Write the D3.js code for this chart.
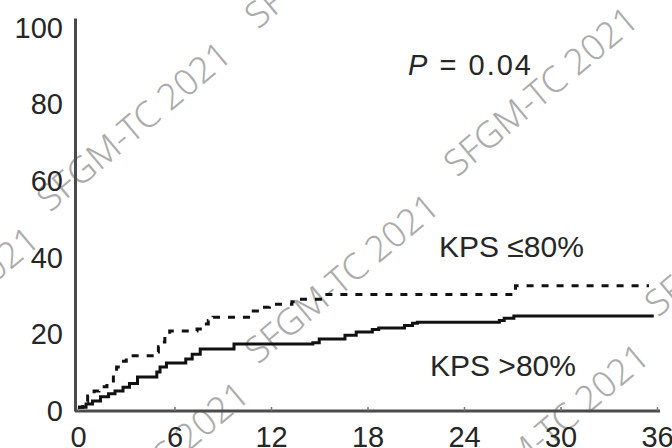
<!DOCTYPE html>
<html>
<head>
<meta charset="utf-8">
<script src="https://cdn.jsdelivr.net/npm/d3@7"></script>
<style>
  body { margin: 0; background: #fff; }
  svg { display: block; font-family: "Liberation Sans", Arial, sans-serif; }
</style>
</head>
<body>
<svg id="chart"></svg>
<script>
// cumulative incidence (%) by month
const kpsHighTimes = [0, 0.5, 0.9, 1.4, 1.9, 2.3, 2.8, 3.2, 3.7, 4.9, 5.1, 5.5, 6.7, 7.1, 7.6, 9.7, 14.6, 15.0, 16.6, 17.3, 18.3, 18.7, 20.3, 20.8, 21.1, 26.2, 26.5, 27.1, 35.8];
const kpsHighValues = [1.0, 1.8, 2.6, 3.7, 4.5, 5.2, 6.2, 7.2, 8.9, 10.2, 11.5, 12.5, 13.6, 14.8, 16.2, 17.5, 17.8, 18.8, 19.8, 20.6, 21.3, 21.7, 22.3, 22.9, 23.2, 23.6, 24.2, 24.8, 24.8];
const kpsLowTimes = [0, 0.3, 0.6, 1.0, 1.3, 1.8, 2.2, 2.4, 2.7, 3.0, 4.8, 5.0, 5.2, 5.4, 5.7, 7.4, 7.8, 8.1, 8.4, 10.6, 10.9, 11.4, 11.9, 13.3, 13.8, 15.2, 27.2, 35.5];
const kpsLowValues = [1.0, 2.5, 3.9, 5.2, 6.3, 7.8, 10.0, 11.5, 13.0, 14.4, 15.4, 16.8, 18.0, 19.5, 20.9, 21.4, 22.7, 23.6, 24.5, 25.3, 26.1, 27.1, 27.9, 28.5, 29.2, 30.4, 32.7, 32.7];
const xTicks = [0, 6, 12, 18, 24, 30, 36];
const yTicks = [0, 20, 40, 60, 80, 100];
const pLabel = "0.04";
const seriesLabels = ["KPS \u226480%", "KPS >80%"];
const watermark = "SFGM-TC 2021";
const watermarkStarts = [[50, 213], [258, 30], [258, 365], [457, 178], [-142, 398], [68, 553], [468, 515], [658, 318]];

const width = 672, height = 448;
const svg = d3.select('#chart').attr('width', width).attr('height', height);

const x = d3.scaleLinear().domain([0, 36]).range([78, 657]);
const y = d3.scaleLinear().domain([0, 102.6]).range([411, 18]);

const line = d3.line()
  .x(d => x(d[0]))
  .y(d => y(d[1]))
  .curve(d3.curveStepAfter);

const high = d3.zip(kpsHighTimes, kpsHighValues);
const low = d3.zip(kpsLowTimes, kpsLowValues);

// watermarks (drawn under everything else)
const wm = svg.append('g').attr('class', 'watermark');
watermarkStarts.forEach(p => {
  wm.append('text')
    .attr('transform', `translate(${p[0]},${p[1]}) rotate(-40)`)
    .attr('font-family', '"Noto Sans", "Open Sans", sans-serif')
    .attr('font-weight', 300)
    .attr('font-size', 36)
    .attr('textLength', 240)
    .attr('lengthAdjust', 'spacingAndGlyphs')
    .attr('fill', '#ababab')
    .text(watermark);
});

// axes
const xAxis = svg.append('g')
  .attr('transform', `translate(0,${y(0)})`)
  .call(d3.axisBottom(x).tickValues(xTicks).tickSizeInner(-4).tickSizeOuter(0).tickPadding(15));
xAxis.select('.domain').attr('d', `M75,0H660`);

const yAxis = svg.append('g')
  .attr('transform', `translate(75,0)`)
  .call(d3.axisLeft(y).tickValues(yTicks).tickSize(0).tickPadding(12));

svg.selectAll('.domain').attr('stroke', '#4a4a4a').attr('stroke-width', 3);
svg.selectAll('.tick line').attr('stroke', '#777').attr('stroke-width', 1.5);
svg.selectAll('.tick text')
  .attr('font-family', '"Liberation Sans", Arial, sans-serif')
  .attr('font-size', 29)
  .attr('fill', '#262626');

// curves
svg.append('path')
  .datum(low)
  .attr('d', line)
  .attr('fill', 'none')
  .attr('stroke', '#111')
  .attr('stroke-width', 3)
  .attr('stroke-dasharray', '7,8');

svg.append('path')
  .datum(high)
  .attr('d', line)
  .attr('fill', 'none')
  .attr('stroke', '#111')
  .attr('stroke-width', 3);

// labels
const pText = svg.append('text')
  .attr('x', 408).attr('y', 75)
  .attr('font-size', 29)
  .attr('fill', '#262626')
  .attr('textLength', 123);
pText.append('tspan').attr('font-style', 'italic').text('P');
pText.append('tspan').text(' = ' + pLabel);

svg.append('text')
  .attr('x', 439).attr('y', 257)
  .attr('font-size', 30)
  .attr('fill', '#262626')
  .text(seriesLabels[0]);

svg.append('text')
  .attr('x', 430).attr('y', 376)
  .attr('font-size', 30)
  .attr('fill', '#262626')
  .text(seriesLabels[1]);
</script>
</body>
</html>
